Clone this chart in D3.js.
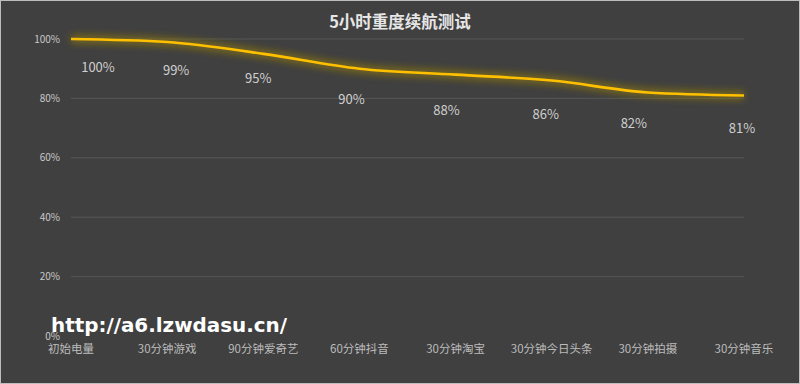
<!DOCTYPE html>
<html><head><meta charset="utf-8">
<script src="https://cdn.jsdelivr.net/npm/d3@7"></script>
<style>html,body{margin:0;padding:0;background:#404040;}svg{display:block;}</style>
</head><body>
<svg id="c" width="800" height="384"></svg>
<script>
const categories = ["初始电量","30分钟游戏","90分钟爱奇艺","60分钟抖音","30分钟淘宝","30分钟今日头条","30分钟拍摄","30分钟音乐"];
const values = [100, 99, 95, 90, 88, 86, 82, 81];
const yTicks = [0, 20, 40, 60, 80, 100];
const title = "5小时重度续航测试";
const watermark = "http://a6.lzwdasu.cn/";

const svg = d3.select("#c");
const W = 800, H = 384;
svg.append("rect").attr("x",0.5).attr("y",0.5).attr("width",W-1).attr("height",H-1)
  .attr("fill","#404040").attr("stroke","#bdbdbd").attr("stroke-width",1);

const x = d3.scalePoint().domain(categories).range([71, 744]);
const y = d3.scaleLinear().domain([0,100]).range([336, 39]);

const font = "'Noto Sans CJK SC','Microsoft YaHei',sans-serif";

// gridlines
svg.append("g").selectAll("line").data(yTicks.filter(d=>d>0)).join("line")
  .attr("x1",71).attr("x2",744).attr("y1",d=>y(d)).attr("y2",d=>y(d))
  .attr("stroke","#565656").attr("stroke-width",1);

// y labels
svg.append("g").selectAll("text").data(yTicks).join("text")
  .attr("x",60).attr("y",d=>y(d)).attr("dy","0.35em").attr("text-anchor","end")
  .attr("font-family",font).attr("font-size",10).attr("fill","#c8c8c8")
  .text(d=>d+"%");

// x labels
svg.append("g").selectAll("text").data(categories).join("text")
  .attr("x",d=>x(d)).attr("y",349).attr("dy","0.35em").attr("text-anchor","middle")
  .attr("font-family",font).attr("font-size",11.5).attr("fill","#bcbcbc")
  .text(d=>d);

// glow filter
const defs = svg.append("defs");
const f = defs.append("filter").attr("id","glow").attr("x","-10%").attr("y","-50%").attr("width","120%").attr("height","200%");
f.append("feGaussianBlur").attr("in","SourceGraphic").attr("stdDeviation",3.5);

const line = d3.line().x((d,i)=>x(categories[i])).y(d=>y(d)).curve(d3.curveMonotoneX);
svg.append("path").datum(values).attr("d",line).attr("fill","none")
  .attr("stroke","#8a7410").attr("stroke-width",9).attr("opacity",0.7).attr("filter","url(#glow)");
svg.append("path").datum(values).attr("d",line).attr("fill","none")
  .attr("stroke","#ffc000").attr("stroke-width",2.6).attr("stroke-linejoin","round");

// data labels (layout offsets, as placed in the original)
const labelDx = [27, 9, -5, -8, -9, -6, -14, -2];
const labelDy = [28, 28, 25, 31, 36, 34, 31, 33];
svg.append("g").selectAll("text").data(values).join("text")
  .attr("x",(d,i)=>x(categories[i])+labelDx[i]).attr("y",(d,i)=>y(d)+labelDy[i]).attr("dy","0.35em")
  .attr("text-anchor","middle")
  .attr("font-family",font).attr("font-size",13).attr("fill","#cfcfcf")
  .text(d=>d+"%");

// title
svg.append("text").attr("x",400).attr("y",22).attr("dy","0.35em").attr("text-anchor","middle")
  .attr("font-family",font).attr("font-size",16.5).attr("font-weight","bold").attr("fill","#e6e6e6")
  .text(title);

// watermark
svg.append("text").attr("x",51).attr("y",332)
  .attr("font-family","'DejaVu Sans',sans-serif").attr("font-size",20).attr("font-weight","bold").attr("fill","#ffffff")
  .attr("textLength",236).attr("lengthAdjust","spacingAndGlyphs")
  .text(watermark);
</script>
</body></html>
